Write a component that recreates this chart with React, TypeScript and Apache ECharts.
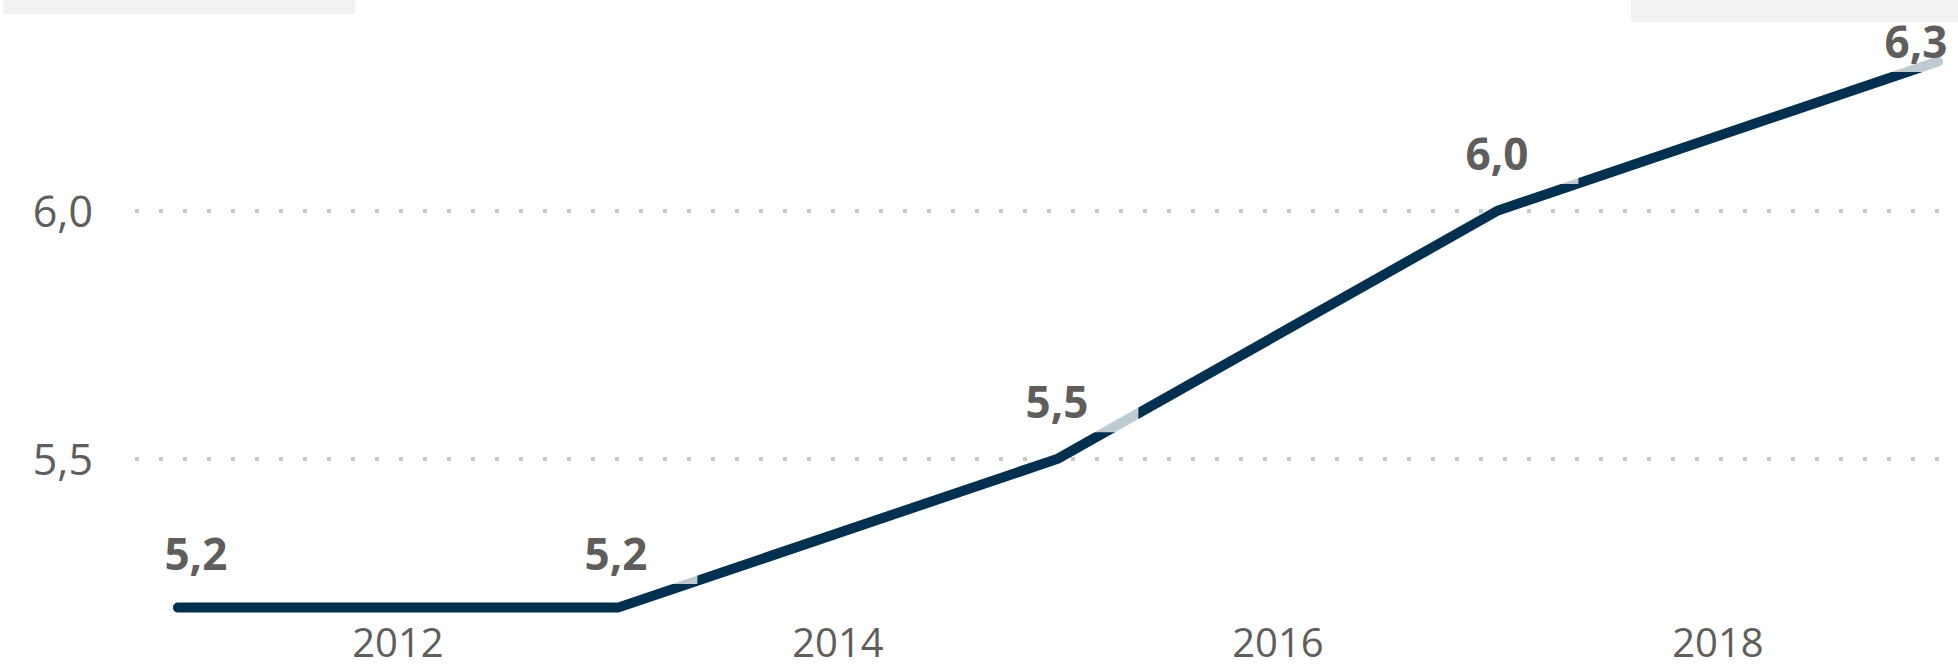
import React, { useEffect, useRef } from 'react';
import * as echarts from 'echarts';

const years = [2011, 2013, 2015, 2017, 2019];
const values = [5.2, 5.2, 5.5, 6.0, 6.3];
const xTickLabels = [2012, 2014, 2016, 2018];
const yMin = 5.5;
const yMax = 6.0;
const yStep = 0.5;

const labelOffsets = [
  [43, 3],
  [23, 3],
  [24, 0],
  [24, 0],
  [3, 37],
];

const fmt = (v: number) => v.toFixed(1).replace('.', ',');

export default function App() {
  const ref = useRef<HTMLDivElement>(null);
  useEffect(() => {
    document.body.style.margin = '0';
    const chart = echarts.init(ref.current!, null, { renderer: 'svg' });
    const font = 'Open Sans';
    const textColor = '#605E5C';
    chart.setOption({
      animation: false,
      backgroundColor: '#ffffff',
      grid: { left: 135, right: 0, top: 210.5, height: 248.2, containLabel: false },
      xAxis: {
        type: 'value',
        min: 2010.805,
        max: 2019.091,
        offset: 157,
        axisLine: { show: false },
        axisTick: { show: false },
        splitLine: { show: false },
        axisLabel: {
          customValues: xTickLabels,
          formatter: (v: number) => String(v),
          fontSize: 40,
          lineHeight: 40,
          fontFamily: font,
          color: textColor,
          margin: 6,
        },
      },
      yAxis: {
        type: 'value',
        min: yMin,
        max: yMax,
        interval: yStep,
        axisLine: { show: false },
        axisTick: { show: false },
        splitLine: {
          show: true,
          lineStyle: { color: '#C8C8C8', type: [4, 20], width: 4 },
        },
        axisLabel: {
          formatter: (v: number) => fmt(v),
          fontSize: 43,
          fontFamily: font,
          color: textColor,
          margin: 42,
        },
      },
      graphic: [
        { type: 'rect', z: 100, shape: { x: 3, y: 0, width: 352, height: 14 }, style: { fill: '#F2F2F2' } },
        { type: 'rect', z: 100, shape: { x: 1631, y: 0, width: 327, height: 22 }, style: { fill: '#F2F2F2' } },
      ],
      series: [
        {
          type: 'line',
          clip: false,
          symbol: 'circle',
          symbolSize: 1,
          itemStyle: { color: '#02304F' },
          lineStyle: { color: '#02304F', width: 10, cap: 'round', join: 'miter' },
          data: years.map((y, i) => ({
            value: [y, values[i]],
            label: { offset: labelOffsets[i] },
          })),
          label: {
            show: true,
            position: 'top',
            distance: 26,
            formatter: (p: any) => fmt(p.value[1]),
            fontSize: 44,
            fontWeight: 'bold',
            fontFamily: font,
            color: textColor,
            lineHeight: 44,
            backgroundColor: 'rgba(255,255,255,0.75)',
            padding: [0, 50, 9, 0],
          },
        },
      ],
    });
    return () => chart.dispose();
  }, []);
  return <div ref={ref} style={{ width: 1958, height: 672 }} />;
}
